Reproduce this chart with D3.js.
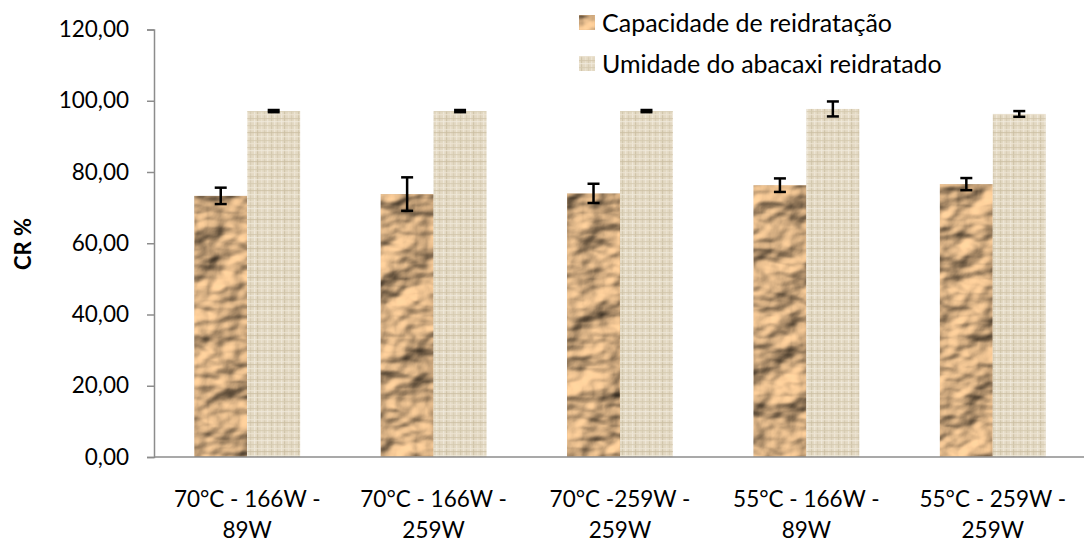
<!DOCTYPE html>
<html>
<head>
<meta charset="utf-8">
<script src="https://cdn.jsdelivr.net/npm/d3@7"></script>
<style>
  html, body { margin: 0; padding: 0; background: #fff; }
  svg { display: block; }
  text { font-family: Lato, "Open Sans", sans-serif; fill: #000; }
</style>
</head>
<body>
<svg id="chart" width="1084" height="543"></svg>
<script>
// ---- data ----
const categoryLine1 = ["70°C - 166W -", "70°C - 166W -", "70°C -259W -", "55°C - 166W -", "55°C - 259W -"];
const categoryLine2 = ["89W", "259W", "259W", "89W", "259W"];
const seriesNames = ["Capacidade de reidratação", "Umidade do abacaxi reidratado"];
const capacidade = [73.3, 73.8, 74.0, 76.3, 76.6];
const capacidadeErr = [2.3, 4.7, 2.7, 1.9, 1.7];
const umidade = [97.1, 97.1, 97.1, 97.7, 96.3];
const umidadeErr = [0.3, 0.3, 0.3, 2.1, 0.8];
const yTicks = [0, 20, 40, 60, 80, 100, 120];
const yLabel = "CR %";

// ---- layout ----
const W = 1084, H = 543;
const plot = { left: 154, right: 1086, top: 29.5, bottom: 457 };
const svg = d3.select("#chart");
const defs = svg.append("defs");

// crumpled brown paper texture
const f1 = defs.append("filter").attr("id", "crumple").attr("x", 0).attr("y", 0).attr("width", 1).attr("height", 1)
  .attr("color-interpolation-filters", "sRGB");
f1.append("feTurbulence").attr("type", "fractalNoise").attr("baseFrequency", "0.024 0.034").attr("numOctaves", 3).attr("seed", 11).attr("result", "noise");
const light = f1.append("feDiffuseLighting").attr("in", "noise").attr("surfaceScale", 8).attr("diffuseConstant", 1.12).attr("lighting-color", "#ecc190").attr("result", "lit");
light.append("feDistantLight").attr("azimuth", 225).attr("elevation", 52);
f1.append("feComposite").attr("in", "lit").attr("in2", "SourceAlpha").attr("operator", "in");

// burlap beige texture pattern
const pat = defs.append("pattern").attr("id", "burlap").attr("patternUnits", "userSpaceOnUse")
  .attr("width", 27).attr("height", 29);
pat.append("rect").attr("width", 27).attr("height", 29).attr("fill", "#e3d9c3");
const vlines = [[1, "#d0c4a9"], [4, "#f0e9d8"], [7, "#d6cbb1"], [11, "#f1ebdd"], [14, "#cdc0a4"], [18, "#ece4d2"], [21, "#d7ccb3"], [24, "#f0e9d9"]];
vlines.forEach(([x, c]) => pat.append("rect").attr("x", x).attr("y", 0).attr("width", 1.2).attr("height", 29).attr("fill", c).attr("opacity", 0.8));
const hlines = [[2, "#d0c3a8"], [5, "#f2ecdf"], [9, "#d5caaf"], [13, "#efe8d8"], [16, "#cbbea2"], [20, "#f0eadb"], [24, "#d5c9ae"], [27, "#ede5d4"]];
hlines.forEach(([y, c]) => pat.append("rect").attr("x", 0).attr("y", y).attr("width", 27).attr("height", 1.2).attr("fill", c).attr("opacity", 0.7));

const fills = ["#d8ad7b", "url(#burlap)"];
const filters = ["url(#crumple)", null];

// ---- scales ----
const x0 = d3.scaleBand().domain(d3.range(categoryLine1.length)).range([plot.left, plot.right]).padding(0);
const x1 = d3.scaleBand().domain([0, 1]).range([0, x0.bandwidth()]).paddingInner(0).paddingOuter(0.76);
const y = d3.scaleLinear().domain([0, 120]).range([plot.bottom, plot.top]);

// ---- y axis ----
const yAxis = svg.append("g").attr("transform", `translate(${plot.left},0)`)
  .call(d3.axisLeft(y).tickValues(yTicks).tickSize(7).tickPadding(18)
    .tickFormat(d => d3.format(".2f")(d).replace(".", ",")));
yAxis.select(".domain").attr("stroke", "#8c8c8c").attr("stroke-width", 1.5);
yAxis.selectAll(".tick line").attr("stroke", "#8c8c8c").attr("stroke-width", 1.5);
yAxis.selectAll(".tick text").attr("font-size", 22.5).attr("font-family", "Lato, sans-serif").attr("fill", "#000");

// ---- bars ----
const seriesData = [capacidade, umidade];
const seriesErr = [capacidadeErr, umidadeErr];
seriesData.forEach((vals, s) => {
  const g = svg.append("g");
  const bars = g.selectAll("rect").data(vals).join("rect")
    .attr("x", (d, i) => x0(i) + x1(s))
    .attr("y", d => y(d))
    .attr("width", x1.bandwidth())
    .attr("height", d => y(0) - y(d))
    .attr("fill", fills[s]);
  if (filters[s]) bars.attr("filter", filters[s]);
});

// ---- x axis line ----
svg.append("line").attr("x1", plot.left).attr("x2", W).attr("y1", y(0)).attr("y2", y(0))
  .attr("stroke", "#8c8c8c").attr("stroke-width", 1.5);

// ---- error bars ----
seriesData.forEach((vals, s) => {
  const g = svg.append("g").attr("stroke", "#000").attr("stroke-width", 2.5);
  vals.forEach((v, i) => {
    const cx = x0(i) + x1(s) + x1.bandwidth() / 2;
    const e = seriesErr[s][i];
    const yt = y(v + e), yb = y(v - e);
    g.append("line").attr("x1", cx).attr("x2", cx).attr("y1", yt).attr("y2", yb);
    g.append("line").attr("x1", cx - 6).attr("x2", cx + 6).attr("y1", yt).attr("y2", yt);
    g.append("line").attr("x1", cx - 6).attr("x2", cx + 6).attr("y1", yb).attr("y2", yb);
  });
});

// ---- x labels ----
const xl = svg.append("g");
categoryLine1.forEach((t, i) => {
  const cx = x0(i) + x0.bandwidth() / 2;
  const tx = xl.append("text").attr("text-anchor", "middle").attr("font-size", 22.5);
  tx.append("tspan").attr("x", cx).attr("y", 507).text(t);
  tx.append("tspan").attr("x", cx).attr("y", 538).text(categoryLine2[i]);
});

// ---- y title ----
svg.append("text").attr("transform", `translate(31,244) rotate(-90)`)
  .attr("text-anchor", "middle").attr("font-weight", "bold").attr("font-size", 22)
  .text(yLabel);

// ---- legend ----
const lg = svg.append("g");
[23, 64].forEach((cy, s) => {
  const r = lg.append("rect").attr("x", 579).attr("y", cy - 8).attr("width", 16).attr("height", 15).attr("fill", fills[s]);
  if (filters[s]) r.attr("filter", filters[s]);
  lg.append("text").attr("x", 602).attr("y", cy).attr("dy", "0.35em").attr("font-size", 25).text(seriesNames[s]);
});
</script>
</body>
</html>
